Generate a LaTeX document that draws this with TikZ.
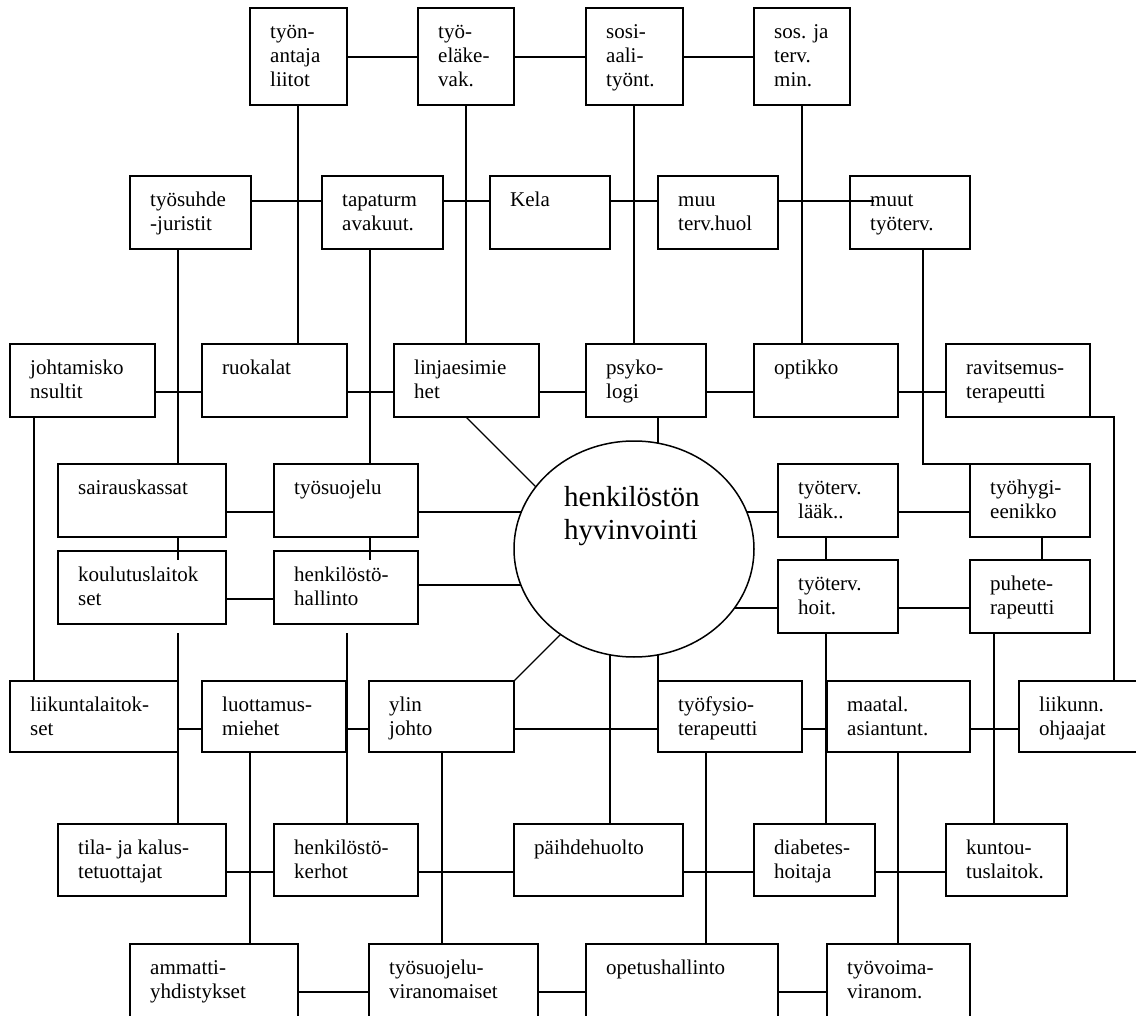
\documentclass[tikz,border=0pt]{standalone}
\usepackage{fontspec}
\setmainfont{Liberation Serif}
\usetikzlibrary{fit,shapes.geometric,calc}
\tikzset{
  box/.style={draw, line width=1.5pt, inner sep=0pt, outer sep=0pt},
  txt/.style={anchor=north west, inner sep=0pt, align=left, font=\fontsize{21}{24}\selectfont},
  ln/.style={line width=1.4pt},
}
\newcommand\bx[6]{%
  \node[box, fit={(#2,#3) (#4,#5)}] (#1) {};
  \node[txt] (#1t) at ([shift={(20,10)}]#1.north west) {\rule{0pt}{20pt}#6};
}
\begin{document}
\begin{tikzpicture}[x=1pt,y=-1pt]
\useasboundingbox (0,0) rectangle (1136,1016);
\fill[white] (0,0) rectangle (1136,1016);
\clip (0,0) rectangle (1136,1016);

% level and column coordinates
\coordinate (y0) at (0,57);
\coordinate (y1) at (0,201);
\coordinate (y2) at (0,392);
\coordinate (y3) at (0,512);
\coordinate (y4l) at (0,599);
\coordinate (y4e) at (0,585);
\coordinate (y4r) at (0,608);
\coordinate (y5) at (0,729);
\coordinate (y6) at (0,872);
\coordinate (y7) at (0,992);
\coordinate (x34) at (34,0);
\coordinate (x178) at (178,0);
\coordinate (x250) at (250,0);
\coordinate (x298) at (298,0);
\coordinate (x347) at (347,0);
\coordinate (x370) at (370,0);
\coordinate (x442) at (442,0);
\coordinate (x466) at (466,0);
\coordinate (x610) at (610,0);
\coordinate (x634) at (634,0);
\coordinate (x658) at (658,0);
\coordinate (x706) at (706,0);
\coordinate (x802) at (802,0);
\coordinate (x826) at (826,0);
\coordinate (x898) at (898,0);
\coordinate (x923) at (923,0);
\coordinate (x994) at (994,0);
\coordinate (x1042) at (1042,0);
\coordinate (x1114) at (1114,0);
\coordinate (e1) at (874,201);
\coordinate (s178a) at (178,560);
\coordinate (s370a) at (370,560);
\coordinate (s178b) at (178,633);
\coordinate (s347b) at (347,633);

% boxes
\bx{tyonantaja}{250}{8}{347}{105}{työn-\\antaja\\liitot}
\bx{tyoelake}{418}{8}{514}{105}{työ-\\eläke-\\vak.}
\bx{sosi}{586}{8}{683}{105}{sosi-\\aali-\\työnt.}
\bx{sosjaterv}{754}{8}{850}{105}{sos. ja\\terv.\\min.}
\bx{tsuhde}{130}{176}{251}{249}{työsuhde\\-juristit}
\bx{tapat}{322}{176}{443}{249}{tapaturm\\avakuut.}
\bx{kela}{490}{176}{610}{249}{Kela}
\bx{muu}{658}{176}{778}{249}{muu\\terv.huol}
\bx{muut}{850}{176}{970}{249}{muut\\työterv.}
\bx{johtamis}{10}{344}{155}{417}{johtamisko\\nsultit}
\bx{ruokalat}{202}{344}{347}{417}{ruokalat}
\bx{linja}{394}{344}{539}{417}{linjaesimie\\het}
\bx{psyko}{586}{344}{706}{417}{psyko-\\logi}
\bx{optikko}{754}{344}{898}{417}{optikko}
\bx{ravits}{946}{344}{1090}{417}{ravitsemus-\\terapeutti}
\bx{sairaus}{58}{464}{226}{537}{sairauskassat}
\bx{tsuoj}{274}{464}{418}{537}{työsuojelu}
\bx{laak}{778}{464}{898}{537}{työterv.\\lääk..}
\bx{hyg}{970}{464}{1090}{537}{työhygi-\\eenikko}
\bx{koulutus}{58}{551}{226}{624}{koulutuslaitok\\set}
\bx{hallinto}{274}{551}{418}{624}{henkilöstö-\\hallinto}
\bx{hoit}{778}{560}{898}{633}{työterv.\\hoit.}
\bx{puhe}{970}{560}{1090}{633}{puhete-\\rapeutti}
\bx{liikunta}{10}{681}{178}{752}{liikuntalaitok-\\set}
\bx{luott}{202}{681}{346}{752}{luottamus-\\miehet}
\bx{ylin}{369}{681}{514}{752}{ylin\\johto}
\bx{fysio}{658}{681}{802}{752}{työfysio-\\terapeutti}
\bx{maatal}{827}{681}{970}{752}{maatal.\\asiantunt.}
\bx{liikunn}{1019}{681}{1150}{752}{liikunn.\\ohjaajat}
\bx{tila}{58}{824}{226}{896}{tila- ja kalus-\\tetuottajat}
\bx{hkerhot}{274}{824}{418}{896}{henkilöstö-\\kerhot}
\bx{paihde}{514}{824}{683}{896}{päihdehuolto}
\bx{diabetes}{754}{824}{875}{896}{diabetes-\\hoitaja}
\bx{kuntou}{946}{824}{1067}{896}{kuntou-\\tuslaitok.}
\bx{ammatti}{130}{944}{298}{1022}{ammatti-\\yhdistykset}
\bx{tsviran}{369}{944}{538}{1022}{työsuojelu-\\viranomaiset}
\bx{opetus}{586}{944}{778}{1022}{opetushallinto}
\bx{tyovoima}{827}{944}{970}{1022}{työvoima-\\viranom.}

% central node (placed now so its anchors exist; redrawn on top later)
\node[ellipse, minimum width=240pt, minimum height=216pt, inner sep=0pt] (ell) at (634,549) {};

% top row
\draw[ln] (tyonantaja.east |- y0) -- (tyoelake.west |- y0);
\draw[ln] (tyoelake.east |- y0) -- (sosi.west |- y0);
\draw[ln] (sosi.east |- y0) -- (sosjaterv.west |- y0);
\draw[ln] (tyonantaja.south -| x298) -- (ruokalat.north -| x298);
\draw[ln] (tyoelake.south -| x466) -- (linja.north -| x466);
\draw[ln] (sosi.south -| x634) -- (psyko.north -| x634);
\draw[ln] (sosjaterv.south -| x802) -- (optikko.north -| x802);

% row 1
\draw[ln] (tsuhde.east |- y1) -- (tapat.west |- y1);
\draw[ln] (tapat.east |- y1) -- (kela.west |- y1);
\draw[ln] (kela.east |- y1) -- (muu.west |- y1);
\draw[ln] (muu.east |- y1) -- (e1);
\draw[ln] (tsuhde.south -| x178) -- (sairaus.north -| x178);
\draw[ln] (tapat.south -| x370) -- (tsuoj.north -| x370);
\draw[ln] (muut.south -| x923) |- (hyg.north west);

% row 2
\draw[ln] (johtamis.east |- y2) -- (ruokalat.west |- y2);
\draw[ln] (ruokalat.east |- y2) -- (linja.west |- y2);
\draw[ln] (linja.east |- y2) -- (psyko.west |- y2);
\draw[ln] (psyko.east |- y2) -- (optikko.west |- y2);
\draw[ln] (optikko.east |- y2) -- (ravits.west |- y2);
\draw[ln] (johtamis.south -| x34) -- (liikunta.north -| x34);
\draw[ln] (linja.south -| x466) -- ++(100,100);
\draw[ln] (psyko.south -| x658) -- (ell.center -| x658);
\draw[ln] (ravits.south east) -| (liikunn.north -| x1114);

% row 3
\draw[ln] (sairaus.east |- y3) -- (tsuoj.west |- y3);
\draw[ln] (tsuoj.east |- y3) -- (ell.center |- y3);
\draw[ln] (ell.center |- y3) -- (laak.west |- y3);
\draw[ln] (laak.east |- y3) -- (hyg.west |- y3);
\draw[ln] (sairaus.south -| x178) -- (s178a);
\draw[ln] (tsuoj.south -| x370) -- (s370a);
\draw[ln] (laak.south -| x826) -- (hoit.north -| x826);
\draw[ln] (hyg.south -| x1042) -- (puhe.north -| x1042);

% row 4
\draw[ln] (koulutus.east |- y4l) -- (hallinto.west |- y4l);
\draw[ln] (hallinto.east |- y4e) -- (ell.center |- y4e);
\draw[ln] (ell.center |- y4r) -- (hoit.west |- y4r);
\draw[ln] (hoit.east |- y4r) -- (puhe.west |- y4r);
\draw[ln] (s178b) -- (tila.north -| x178);
\draw[ln] (s347b) -- (hkerhot.north -| x347);
\draw[ln] (hoit.south -| x826) -- (diabetes.north -| x826);
\draw[ln] (puhe.south -| x994) -- (kuntou.north -| x994);
\draw[ln] (ell.center -| x610) -- (paihde.north -| x610);
\draw[ln] (ell.center -| x658) -- (fysio.north west);
\draw[ln] (ylin.north east) -- ++(80,-80);

% row 5
\draw[ln] (liikunta.east |- y5) -- (luott.west |- y5);
\draw[ln] (luott.east |- y5) -- (ylin.west |- y5);
\draw[ln] (ylin.east |- y5) -- (fysio.west |- y5);
\draw[ln] (fysio.east |- y5) -- (maatal.west |- y5);
\draw[ln] (maatal.east |- y5) -- (liikunn.west |- y5);
\draw[ln] (luott.south -| x250) -- (ammatti.north -| x250);
\draw[ln] (ylin.south -| x442) -- (tsviran.north -| x442);
\draw[ln] (fysio.south -| x706) -- (opetus.north -| x706);
\draw[ln] (maatal.south -| x898) -- (tyovoima.north -| x898);

% row 6
\draw[ln] (tila.east |- y6) -- (hkerhot.west |- y6);
\draw[ln] (hkerhot.east |- y6) -- (paihde.west |- y6);
\draw[ln] (paihde.east |- y6) -- (diabetes.west |- y6);
\draw[ln] (diabetes.east |- y6) -- (kuntou.west |- y6);

% row 7
\draw[ln] (ammatti.east |- y7) -- (tsviran.west |- y7);
\draw[ln] (tsviran.east |- y7) -- (opetus.west |- y7);
\draw[ln] (opetus.east |- y7) -- (tyovoima.west |- y7);

% central ellipse on top
\node[ellipse, draw, fill=white, line width=1.5pt, minimum width=240pt, minimum height=216pt, inner sep=0pt] (ellb) at (ell.center) {};
\node[anchor=north west, inner sep=0pt, align=left, font=\fontsize{29}{33}\selectfont] (ellt) at (564,479) {\rule{0pt}{27pt}henkilöstön\\hyvinvointi};
\end{tikzpicture}
\end{document}
